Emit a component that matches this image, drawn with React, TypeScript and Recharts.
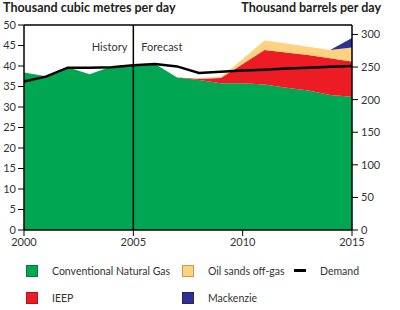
import React from 'react';
import { ComposedChart, Area, Line, XAxis, YAxis, ReferenceLine } from 'recharts';

const years = [2000, 2001, 2002, 2003, 2004, 2005, 2006, 2007, 2008, 2009, 2010, 2011, 2012, 2013, 2014, 2015];
const conventionalGas = [38.4, 37.5, 39.7, 38.0, 39.9, 40.3, 40.5, 37.2, 36.6, 35.8, 35.8, 35.5, 34.7, 34.0, 32.9, 32.5];
const ieep = [0, 0, 0, 0, 0, 0, 0, 0, 0.3, 1.3, 4.7, 8.4, 8.6, 8.7, 9.0, 8.6];
const oilSandsOffGas = [0, 0, 0, 0, 0, 0, 0, 0, 0.1, 0.3, 1.2, 2.3, 2.2, 2.0, 2.0, 3.4];
const mackenzie = [0, 0, 0, 0, 0, 0, 0, 0, 0, 0, 0, 0, 0, 0, 0, 2.3];
const demand = [36.2, 37.4, 39.6, 39.6, 39.7, 40.2, 40.5, 39.9, 38.3, 38.6, 38.9, 39.1, 39.4, 39.6, 39.8, 40.0];

const xTicks = [2000, 2005, 2010, 2015];
const leftTicks = [0, 5, 10, 15, 20, 25, 30, 35, 40, 45, 50];
const rightTicks = [0, 50, 100, 150, 200, 250, 300];

const data = years.map((y, i) => ({
  year: y,
  gas: conventionalGas[i],
  ieep: ieep[i],
  oil: oilSandsOffGas[i],
  mack: mackenzie[i],
  demand: demand[i],
}));

const FONT = 'Lato, "DejaVu Sans", sans-serif';
const GREEN = '#00A651';
const RED = '#ED1C24';
const YELLOW = '#FFD27F';
const BLUE = '#2E3192';

const tickStyle = { fontSize: 11, fill: '#333', fontFamily: FONT };

const legendItems = [
  { label: 'Conventional Natural Gas', color: GREEN, x: 26, y: 265, type: 'box' },
  { label: 'Oil sands off-gas', color: YELLOW, x: 182, y: 265, type: 'box' },
  { label: 'Demand', color: '#000', x: 294, y: 265, type: 'line' },
  { label: 'IEEP', color: RED, x: 26, y: 292, type: 'box' },
  { label: 'Mackenzie', color: BLUE, x: 182, y: 292, type: 'box' },
];

export default function App() {
  return (
    <div style={{ position: 'absolute', left: 0, top: 0, width: 400, height: 310, background: '#fff', fontFamily: FONT }}>
      <div style={{ position: 'absolute', left: 3, top: 0, fontSize: 12.5, fontWeight: 700, color: '#222' }}>
        Thousand cubic metres per day
      </div>
      <div style={{ position: 'absolute', right: 19, top: 0, fontSize: 12.5, fontWeight: 700, color: '#222' }}>
        Thousand barrels per day
      </div>
      <ComposedChart
        width={400}
        height={310}
        data={data}
        margin={{ top: 25, right: 0, bottom: 50, left: 0 }}
      >
        <XAxis
          dataKey="year"
          type="number"
          domain={[2000, 2015]}
          ticks={xTicks}
          tick={tickStyle}
          tickSize={6}
          height={30}
          axisLine={{ stroke: '#000', strokeWidth: 1.5 }}
          tickLine={{ stroke: '#000' }}
        />
        <YAxis
          yAxisId="left"
          domain={[0, 50]}
          ticks={leftTicks}
          tick={tickStyle}
          width={24}
          tickSize={6}
          interval={0}
          axisLine={{ stroke: '#000', strokeWidth: 1.5 }}
          tickLine={{ stroke: '#000' }}
        />
        <YAxis
          yAxisId="right"
          orientation="right"
          domain={[0, 314.5]}
          ticks={rightTicks}
          tick={tickStyle}
          width={48}
          tickSize={6}
          tickMargin={3}
          interval={0}
          allowDataOverflow
          axisLine={{ stroke: '#000', strokeWidth: 1.5 }}
          tickLine={{ stroke: '#000' }}
        />
        <Area yAxisId="left" type="linear" dataKey="gas" stackId="s" fill={GREEN} fillOpacity={1} stroke="none" isAnimationActive={false} />
        <Area yAxisId="left" type="linear" dataKey="ieep" stackId="s" fill={RED} fillOpacity={1} stroke="none" isAnimationActive={false} />
        <Area yAxisId="left" type="linear" dataKey="oil" stackId="s" fill={YELLOW} fillOpacity={1} stroke="none" isAnimationActive={false} />
        <Area yAxisId="left" type="linear" dataKey="mack" stackId="s" fill={BLUE} fillOpacity={1} stroke="none" isAnimationActive={false} />
        <ReferenceLine yAxisId="left" y={50} stroke="#000" strokeWidth={1.5} />
        <ReferenceLine
          yAxisId="left"
          x={2005}
          stroke="#000"
          strokeWidth={1.5}
          label={(props: any) => {
            const vb = props.viewBox || {};
            const x = vb.x ?? 0;
            const y = vb.y ?? 0;
            return (
              <g>
                <text x={x - 6} y={y + 26} textAnchor="end" fontSize={11} fill="#333" fontFamily={FONT}>History</text>
                <text x={x + 8} y={y + 26} textAnchor="start" fontSize={11} fill="#333" fontFamily={FONT}>Forecast</text>
              </g>
            );
          }}
        />
        <Line yAxisId="left" type="linear" dataKey="demand" stroke="#000" strokeWidth={2.5} dot={false} isAnimationActive={false} />
      </ComposedChart>
      {legendItems.map((it) => (
        <div key={it.label} style={{ position: 'absolute', left: it.x, top: it.y, height: 11, display: 'flex', alignItems: 'center' }}>
          {it.type === 'box' ? (
            <div style={{ width: 10, height: 10, background: it.color, border: '0.5px solid rgba(0,0,0,0.25)' }} />
          ) : (
            <div style={{ width: 12, height: 3, background: it.color }} />
          )}
          <span style={{ marginLeft: 14, fontSize: 10.5, color: '#333', whiteSpace: 'nowrap' }}>{it.label}</span>
        </div>
      ))}
    </div>
  );
}
